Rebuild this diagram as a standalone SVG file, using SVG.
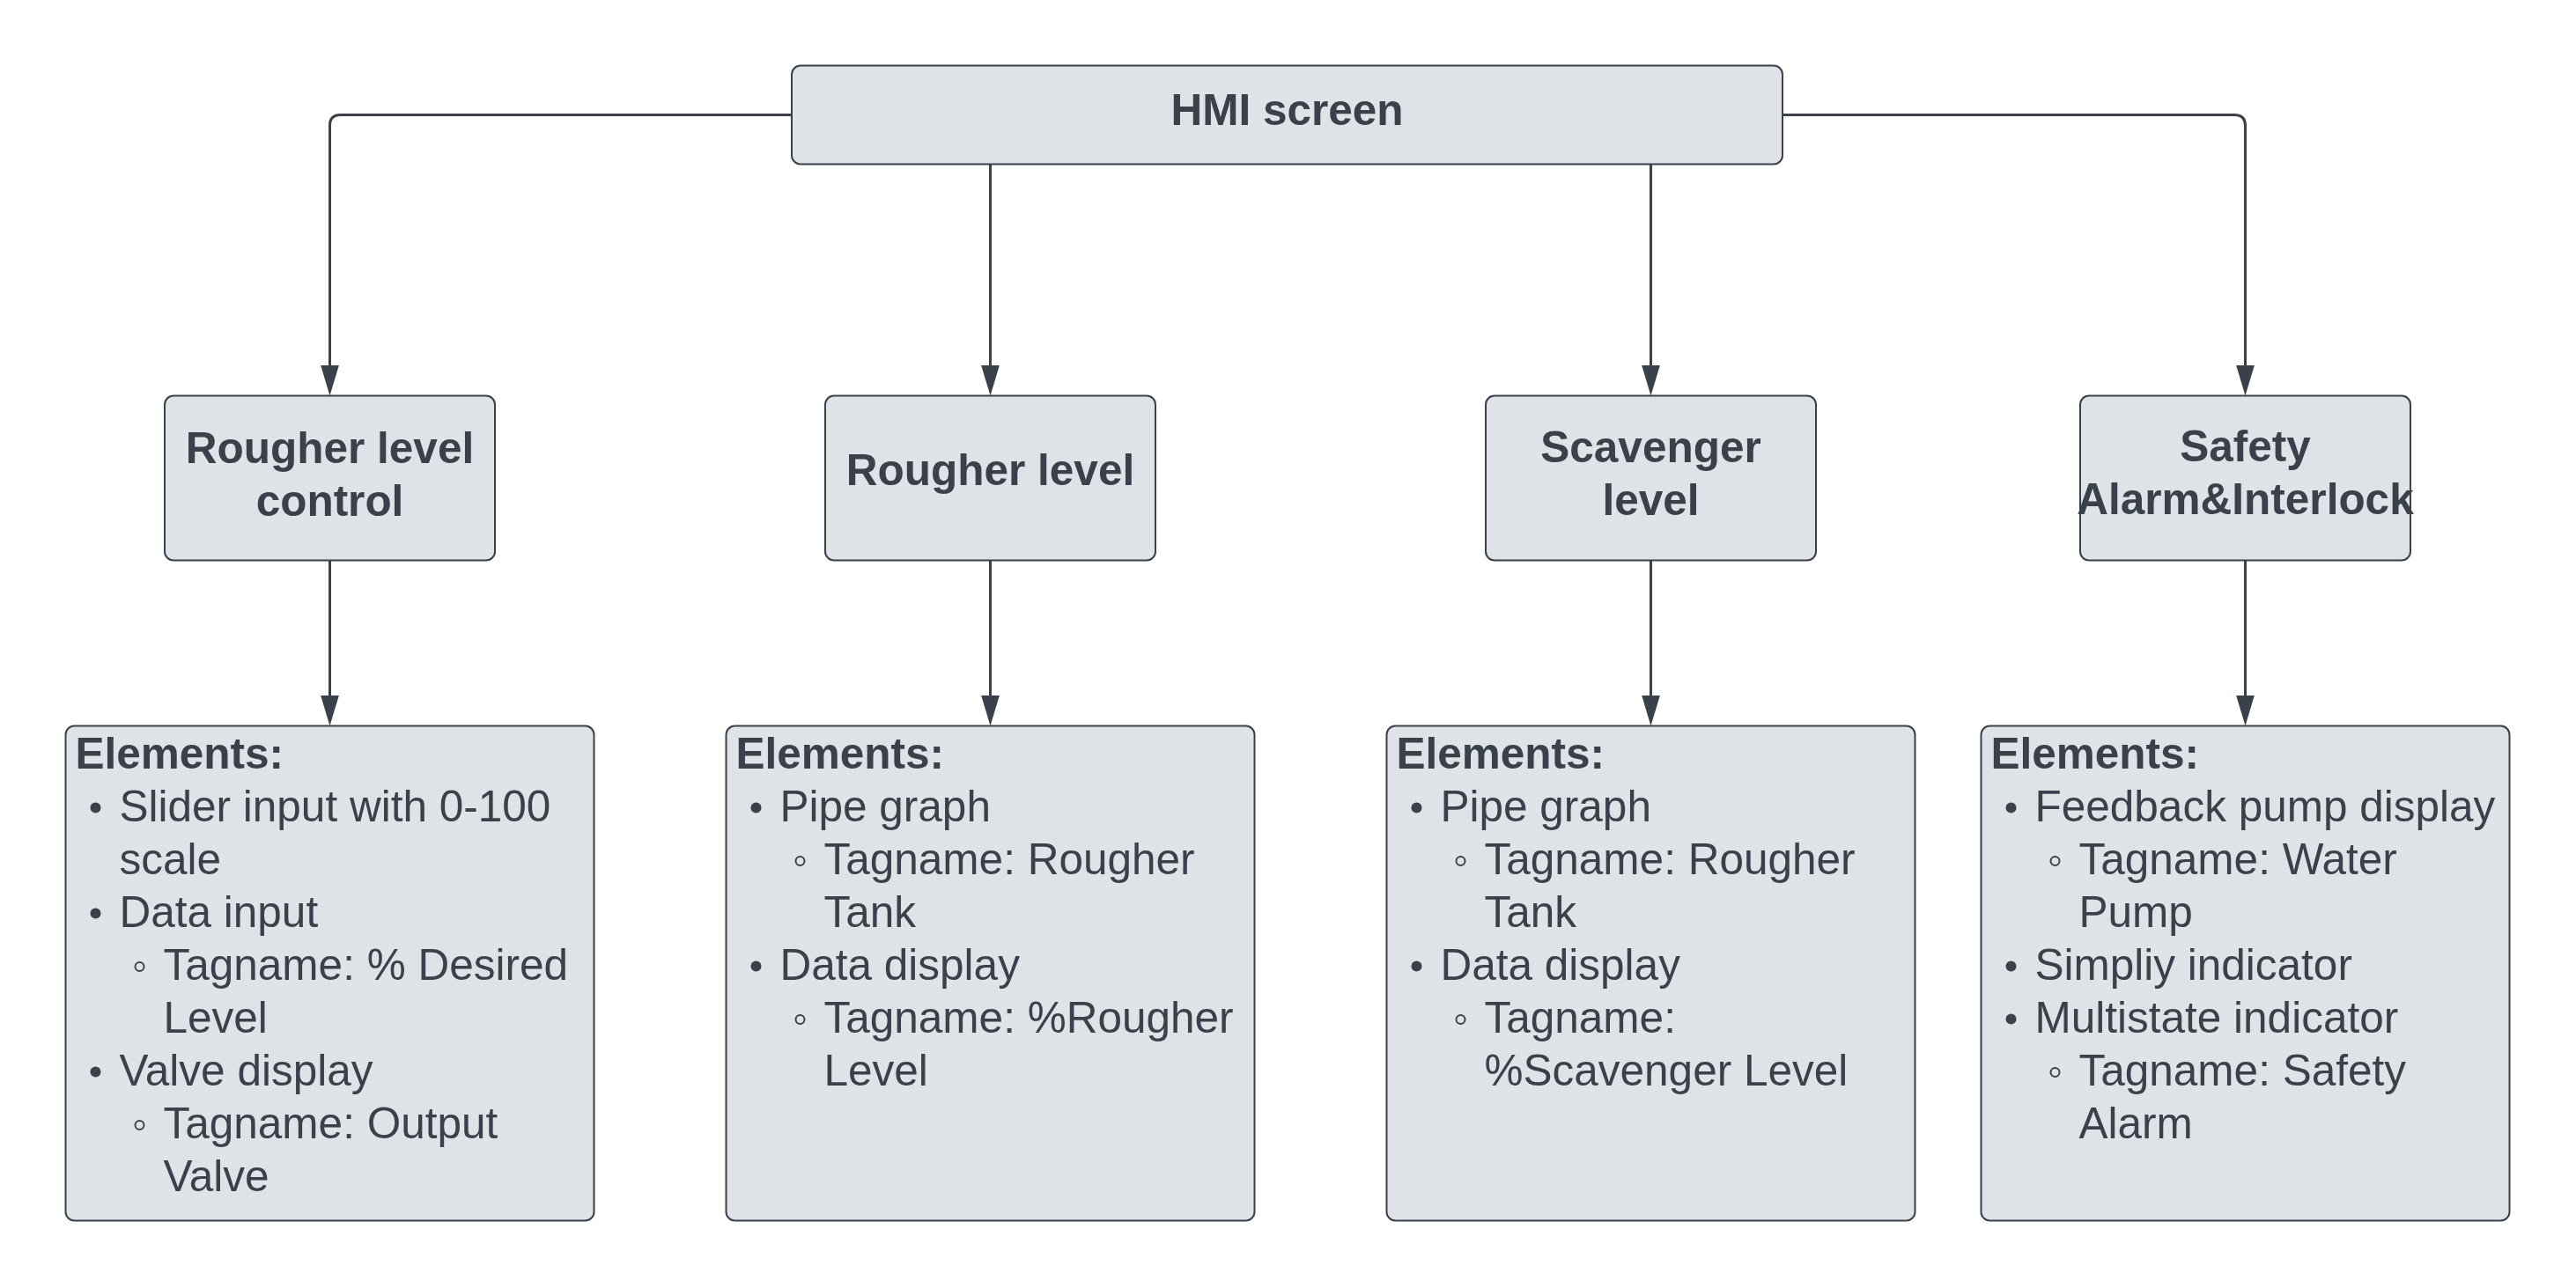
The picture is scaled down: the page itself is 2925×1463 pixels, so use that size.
<svg xmlns="http://www.w3.org/2000/svg" width="2925" height="1463" viewBox="0 0 2925 1463">
<style>
.box{fill:#dfe3e8;stroke:#3a414a;stroke-width:2}
.t{font-family:"Liberation Sans",Arial,sans-serif;font-size:49.5px;fill:#3a414a}
.b{font-weight:bold}
.c{text-anchor:middle}
.con{fill:none;stroke:#3a414a;stroke-width:3}
.dot{fill:#3a414a}
.ring{fill:none;stroke:#3a414a;stroke-width:2}
</style>
<defs>
<marker id="arr" viewBox="0 0 35 21" refX="1.5" refY="10.5" markerWidth="35" markerHeight="21" markerUnits="userSpaceOnUse" orient="auto">
<path d="M0 0 L35 10.5 L0 21 z" fill="#3a414a"/>
</marker>
</defs>
<rect width="2925" height="1463" fill="#ffffff"/>
<g id="connectors">
<path class="con" d="M899 130.5 H386.5 Q374.5 130.5 374.5 142.5 V416" marker-end="url(#arr)"/>
<path class="con" d="M2024 130.5 H2537.5 Q2549.5 130.5 2549.5 142.5 V416" marker-end="url(#arr)"/>
<path class="con" d="M1124.5 186.5 V416" marker-end="url(#arr)"/>
<path class="con" d="M1874.5 186.5 V416" marker-end="url(#arr)"/>
<path class="con" d="M374.5 636.5 V791" marker-end="url(#arr)"/>
<path class="con" d="M1124.5 636.5 V791" marker-end="url(#arr)"/>
<path class="con" d="M1874.5 636.5 V791" marker-end="url(#arr)"/>
<path class="con" d="M2549.5 636.5 V791" marker-end="url(#arr)"/>
</g>
<g id="hmi">
<rect class="box" x="899" y="74.5" width="1125" height="112" rx="10"/>
<text class="t b c" x="1461.5" y="142">HMI screen</text>
</g>
<g id="n1">
<rect class="box" x="187" y="449.5" width="375" height="187" rx="10"/>
<text class="t b c" x="374.5" y="526">Rougher level</text>
<text class="t b c" x="374.5" y="586">control</text>
</g>
<g id="n2">
<rect class="box" x="937" y="449.5" width="375" height="187" rx="10"/>
<text class="t b c" x="1124.5" y="551">Rougher level</text>
</g>
<g id="n3">
<rect class="box" x="1687" y="449.5" width="375" height="187" rx="10"/>
<text class="t b c" x="1874.5" y="525">Scavenger</text>
<text class="t b c" x="1874.5" y="585">level</text>
</g>
<g id="n4">
<rect class="box" x="2362" y="449.5" width="375" height="187" rx="10"/>
<text class="t b c" x="2549.5" y="524">Safety</text>
<text class="t b c" x="2549.5" y="584">Alarm&amp;Interlock</text>
</g>
<g id="e1">
<rect class="box" x="74.5" y="824.5" width="600" height="562" rx="10"/>
<text class="t b" x="85.5" y="873">Elements:</text>
<circle class="dot" cx="108.5" cy="917.5" r="6"/>
<text class="t" x="135.5" y="933">Slider input with 0-100</text>
<text class="t" x="135.5" y="993">scale</text>
<circle class="dot" cx="108.5" cy="1037.5" r="6"/>
<text class="t" x="135.5" y="1053">Data input</text>
<circle class="ring" cx="158.5" cy="1098" r="5"/>
<text class="t" x="185.5" y="1113">Tagname: % Desired</text>
<text class="t" x="185.5" y="1173">Level</text>
<circle class="dot" cx="108.5" cy="1217.5" r="6"/>
<text class="t" x="135.5" y="1233">Valve display</text>
<circle class="ring" cx="158.5" cy="1278" r="5"/>
<text class="t" x="185.5" y="1293">Tagname: Output</text>
<text class="t" x="185.5" y="1353">Valve</text>
</g>
<g id="e2">
<rect class="box" x="824.5" y="824.5" width="600" height="562" rx="10"/>
<text class="t b" x="835.5" y="873">Elements:</text>
<circle class="dot" cx="858.5" cy="917.5" r="6"/>
<text class="t" x="885.5" y="933">Pipe graph</text>
<circle class="ring" cx="908.5" cy="978" r="5"/>
<text class="t" x="935.5" y="993">Tagname: Rougher</text>
<text class="t" x="935.5" y="1053">Tank</text>
<circle class="dot" cx="858.5" cy="1097.5" r="6"/>
<text class="t" x="885.5" y="1113">Data display</text>
<circle class="ring" cx="908.5" cy="1158" r="5"/>
<text class="t" x="935.5" y="1173">Tagname: %Rougher</text>
<text class="t" x="935.5" y="1233">Level</text>
</g>
<g id="e3">
<rect class="box" x="1574.5" y="824.5" width="600" height="562" rx="10"/>
<text class="t b" x="1585.5" y="873">Elements:</text>
<circle class="dot" cx="1608.5" cy="917.5" r="6"/>
<text class="t" x="1635.5" y="933">Pipe graph</text>
<circle class="ring" cx="1658.5" cy="978" r="5"/>
<text class="t" x="1685.5" y="993">Tagname: Rougher</text>
<text class="t" x="1685.5" y="1053">Tank</text>
<circle class="dot" cx="1608.5" cy="1097.5" r="6"/>
<text class="t" x="1635.5" y="1113">Data display</text>
<circle class="ring" cx="1658.5" cy="1158" r="5"/>
<text class="t" x="1685.5" y="1173">Tagname:</text>
<text class="t" x="1685.5" y="1233">%Scavenger Level</text>
</g>
<g id="e4">
<rect class="box" x="2249.5" y="824.5" width="600" height="562" rx="10"/>
<text class="t b" x="2260.5" y="873">Elements:</text>
<circle class="dot" cx="2283.5" cy="917.5" r="6"/>
<text class="t" x="2310.5" y="933">Feedback pump display</text>
<circle class="ring" cx="2333.5" cy="978" r="5"/>
<text class="t" x="2360.5" y="993">Tagname: Water</text>
<text class="t" x="2360.5" y="1053">Pump</text>
<circle class="dot" cx="2283.5" cy="1097.5" r="6"/>
<text class="t" x="2310.5" y="1113">Simpliy indicator</text>
<circle class="dot" cx="2283.5" cy="1157.5" r="6"/>
<text class="t" x="2310.5" y="1173">Multistate indicator</text>
<circle class="ring" cx="2333.5" cy="1218" r="5"/>
<text class="t" x="2360.5" y="1233">Tagname: Safety</text>
<text class="t" x="2360.5" y="1293">Alarm</text>
</g>
</svg>
